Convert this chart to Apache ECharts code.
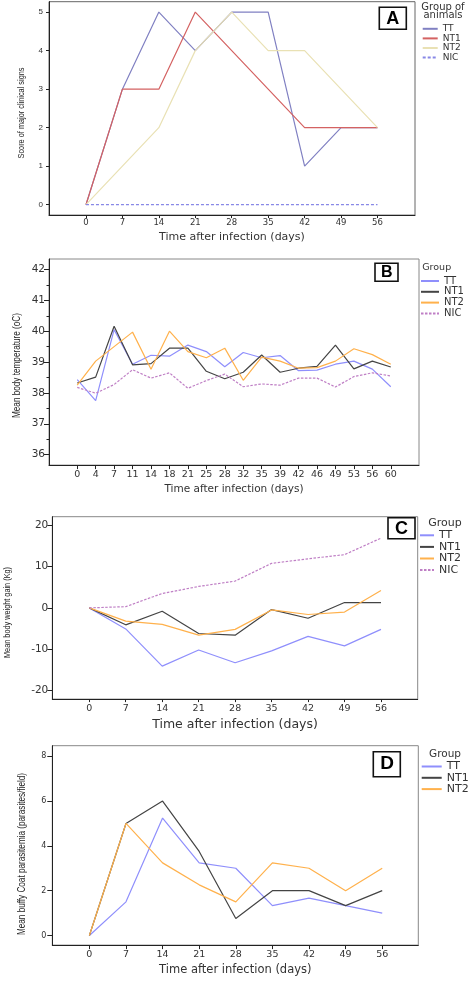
<!DOCTYPE html>
<html><head><meta charset="utf-8">
<script src="https://cdn.jsdelivr.net/npm/echarts@6/dist/echarts.min.js"></script>
<style>html,body{margin:0;padding:0;background:#fff;width:472px;height:981px;overflow:hidden;position:relative}
.p{position:absolute;left:0;width:472px}</style></head>
<body>
<div id="a" class="p" style="top:0;height:248px"></div>
<div id="b" class="p" style="top:248px;height:252px"></div>
<div id="c" class="p" style="top:500px;height:236px"></div>
<div id="d" class="p" style="top:736px;height:245px"></div>
<script>
// ---------- data ----------
const weekDays = [0, 7, 14, 21, 28, 35, 42, 49, 56];
const tempDays = ['0','4','7','11','14','18','21','25','28','32','35','39','42','46','49','53','56','60'];
const groups = ['TT', 'NT1', 'NT2', 'NIC'];

const scoreTT  = [0, 3, 5, 4, 5, 5, 1, 2, 2];
const scoreNT1 = [0, 3, 3, 5, 4, 3, 2, 2, 2];
const scoreNT2 = [0, 1, 2, 4, 5, 4, 4, 3, 2];
const scoreNIC = [0, 0, 0, 0, 0, 0, 0, 0, 0];

const tempTT  = [38.43, 37.75, 40.05, 38.93, 39.22, 39.19, 39.55, 39.34, 38.85, 39.31, 39.14, 39.21, 38.72, 38.74, 38.93, 39.03, 38.77, 38.20];
const tempNT1 = [38.32, 38.51, 40.16, 38.91, 38.95, 39.45, 39.45, 38.70, 38.46, 38.67, 39.23, 38.67, 38.80, 38.86, 39.55, 38.78, 39.03, 38.84];
const tempNT2 = [38.25, 39.03, 39.50, 39.97, 38.77, 40.00, 39.34, 39.14, 39.45, 38.41, 39.16, 39.03, 38.80, 38.82, 39.03, 39.43, 39.24, 38.93];
const tempNIC = [38.18, 37.99, 38.27, 38.75, 38.48, 38.65, 38.15, 38.40, 38.61, 38.20, 38.29, 38.25, 38.48, 38.48, 38.19, 38.53, 38.65, 38.55];

const weightTT  = [0, -5.1, -14.1, -10.2, -13.3, -10.4, -6.9, -9.2, -5.2];
const weightNT1 = [0, -4.1, -0.8, -6.2, -6.6, -0.4, -2.5, 1.3, 1.3];
const weightNT2 = [0, -3.2, -4.0, -6.6, -5.2, -0.5, -1.6, -1.0, 4.2];
const weightNIC = [0, 0.3, 3.5, 5.2, 6.5, 10.8, 11.9, 12.9, 16.9];

const buffyTT  = [0, 1.5, 5.24, 3.24, 3.0, 1.33, 1.67, 1.33, 1.0];
const buffyNT1 = [0, 5.0, 6.0, 3.75, 0.76, 2.0, 2.0, 1.33, 2.0];
const buffyNT2 = [0, 5.0, 3.24, 2.26, 1.5, 3.24, 3.0, 2.0, 3.0];

const scoreTicks = [0, 1, 2, 3, 4, 5];
const tempTicks = [36, 37, 38, 39, 40, 41, 42];
const tempMinorTicks = [36.5, 37.5, 38.5, 39.5, 40.5, 41.5];
const weightTicks = [-20, -10, 0, 10, 20];
const buffyTicks = [0, 2, 4, 6, 8];

// ---------- helpers ----------
const XTITLE = 'Time after infection (days)';
const colA = {TT: '#8080c2', NT1: '#d46262', NT2: '#e9e1b4', NIC: '#8888e6'};
const colB = {TT: '#8f8ffc', NT1: '#444444', NT2: '#ffb14c', NIC: '#bf7fc5'};

function mkSeries(name, xs, ys, color, dash) {
  return {
    type: 'line', name: name, symbol: 'none', silent: true,
    data: xs.map((x, i) => [x, ys[i]]),
    lineStyle: {color: color, width: 1.2, type: dash || 'solid'},
    itemStyle: {color: color}
  };
}
function xAxisCfg(min, max, ticks, o) {
  return {
    type: 'value', min: min, max: max,
    axisLine: {onZero: false, lineStyle: {color: '#222', width: 1}},
    axisTick: {customValues: ticks, length: o.tickLen, lineStyle: {color: '#222'}},
    axisLabel: {customValues: ticks, margin: o.labelMargin, fontSize: o.labelSize, color: '#333',
      fontFamily: 'DejaVu Sans', formatter: o.formatter},
    splitLine: {show: false},
    name: XTITLE, nameLocation: 'middle', nameGap: o.nameGap,
    nameTextStyle: {fontSize: o.nameSize, color: '#333', fontFamily: 'DejaVu Sans'}
  };
}
function yAxisCfg(min, max, ticks, o) {
  return {
    type: 'value', min: min, max: max,
    axisLine: {show: true, onZero: false, lineStyle: {color: '#222', width: 1}},
    axisTick: {show: true, customValues: ticks, length: o.tickLen, lineStyle: {color: '#222'}},
    axisLabel: {customValues: ticks, margin: o.labelMargin, fontSize: o.labelSize, color: '#333',
      fontFamily: o.labelFont || 'DejaVu Sans'},
    splitLine: {show: false}
  };
}
function letterBox(txt, left, top, size, pad, lh) {
  return {text: txt, left: left, top: top, padding: pad, borderWidth: 1.6, borderColor: '#111',
    backgroundColor: '#fff',
    textStyle: {fontSize: size, fontWeight: 'bold', color: '#000', fontFamily: 'Liberation Sans', lineHeight: lh}};
}
function legendCfg(names, left, top, iw, ih, gap, fs) {
  return {orient: 'vertical', left: left, top: top, padding: 0, itemWidth: iw, itemHeight: ih, itemGap: gap,
    selectedMode: false, itemStyle: {opacity: 0}, data: names,
    textStyle: {fontSize: fs, lineHeight: ih, color: '#333', fontFamily: 'DejaVu Sans'}};
}
function header(text, x, y, fs, lh) {
  return {type: 'text', x: x, y: y, silent: true,
    style: {text: text, font: fs + 'px "DejaVu Sans"', fill: '#333', align: 'center', textAlign: 'center',
      verticalAlign: 'middle', textVerticalAlign: 'middle', lineHeight: lh}};
}
const measureCtx = document.createElement('canvas').getContext('2d');
// vertical (condensed) axis title
function vTitle(text, cx, cy, fs, len) {
  const font = fs + 'px "Liberation Sans"';
  measureCtx.font = font;
  const w = measureCtx.measureText(text).width;
  return {type: 'text', x: cx, y: cy, rotation: Math.PI / 2, scaleX: len / w, scaleY: 1, silent: true,
    style: {text: text, font: font, fill: '#222', align: 'center', textAlign: 'center',
      verticalAlign: 'middle', textVerticalAlign: 'middle'}};
}

// ---------- Panel A ----------
const chA = echarts.init(document.getElementById('a'), null, {renderer: 'canvas'});
chA.setOption({
  animation: false,
  grid: {left: 49, top: 1.7, width: 366, height: 219.6, show: true, borderColor: '#666', borderWidth: 1},
  xAxis: xAxisCfg(-7.1, 63.2, weekDays, {tickLen: 3, labelMargin: 3, labelSize: 8.5, nameGap: 13.5, nameSize: 11}),
  yAxis: yAxisCfg(-0.27, 5.27, scoreTicks, {tickLen: 3, labelMargin: 6, labelSize: 8, labelFont: 'Liberation Sans'}),
  title: [letterBox('A', 379.3, 7.3, 18, [2, 7, 1, 7], 19)],
  legend: legendCfg(groups, 421.7, 24.3, 15, 8, 0.6, 9),
  graphic: [header('Group of\nanimals', 443, 11.5, 10, 8.4),
            vTitle('Score of major clinical signs', 21.7, 113, 9.5, 91)],
  series: [
    mkSeries('TT', weekDays, scoreTT, colA.TT),
    mkSeries('NT1', weekDays, scoreNT1, colA.NT1),
    mkSeries('NT2', weekDays, scoreNT2, colA.NT2),
    mkSeries('NIC', weekDays, scoreNIC, colA.NIC, [3, 2])
  ]
});

// ---------- Panel B ----------
const tempIdx = tempDays.map((d, i) => i);
const chB = echarts.init(document.getElementById('b'), null, {renderer: 'canvas'});
const yB = yAxisCfg(35.66, 42.34, tempTicks, {tickLen: 5, labelMargin: 4, labelSize: 10.5});
const yBminor = {type: 'value', min: 35.66, max: 42.34, position: 'left',
  axisLine: {show: false, onZero: false}, axisTick: {show: true, customValues: tempMinorTicks, length: 2.5, lineStyle: {color: '#222'}},
  axisLabel: {show: false}, splitLine: {show: false}};
chB.setOption({
  animation: false,
  grid: {left: 49, top: 11, width: 370, height: 214.3, show: true, borderColor: '#888', borderWidth: 1},
  xAxis: xAxisCfg(-1.53, 18.53, tempIdx, {tickLen: 4, labelMargin: 4, labelSize: 9.5, nameGap: 17, nameSize: 10.5,
    formatter: v => tempDays[Math.round(v)]}),
  yAxis: [yB, yBminor],
  title: [letterBox('B', 375, 15.3, 16, [1, 6, 0, 6], 17)],
  legend: legendCfg(groups, 420, 28, 18, 10, 0.8, 10),
  graphic: [header('Group', 436.7, 19.3, 9.5, 10),
            vTitle('Mean body temperature (oC)', 17.5, 117.5, 10, 105)],
  series: [
    mkSeries('TT', tempIdx, tempTT, colB.TT),
    mkSeries('NT1', tempIdx, tempNT1, colB.NT1),
    mkSeries('NT2', tempIdx, tempNT2, colB.NT2),
    mkSeries('NIC', tempIdx, tempNIC, colB.NIC, [2.5, 1.5])
  ]
});

// ---------- Panel C ----------
const chC = echarts.init(document.getElementById('c'), null, {renderer: 'canvas'});
chC.setOption({
  animation: false,
  grid: {left: 52.3, top: 16.7, width: 365.4, height: 190, show: true, borderColor: '#888', borderWidth: 1},
  xAxis: xAxisCfg(-7.1, 63.05, weekDays, {tickLen: 3, labelMargin: 4, labelSize: 9.5, nameGap: 16, nameSize: 12.5}),
  yAxis: yAxisCfg(-22.1, 22.1, weightTicks, {tickLen: 5, labelMargin: 4, labelSize: 10.5}),
  title: [letterBox('C', 388, 17.7, 18, [1, 7, 0, 7], 20)],
  legend: legendCfg(groups, 419, 29.8, 14, 9, 0.6, 11),
  graphic: [header('Group', 445, 23.3, 11, 10),
            vTitle('Mean body weight gain (Kg)', 7, 112.5, 9.5, 91)],
  series: [
    mkSeries('TT', weekDays, weightTT, colB.TT),
    mkSeries('NT1', weekDays, weightNT1, colB.NT1),
    mkSeries('NT2', weekDays, weightNT2, colB.NT2),
    mkSeries('NIC', weekDays, weightNIC, colB.NIC, [2.5, 1.5])
  ]
});

// ---------- Panel D ----------
const chD = echarts.init(document.getElementById('d'), null, {renderer: 'canvas'});
chD.setOption({
  animation: false,
  grid: {left: 52.3, top: 9.7, width: 366, height: 207.6, show: true, borderColor: '#888', borderWidth: 1},
  xAxis: xAxisCfg(-7.09, 62.9, weekDays, {tickLen: 4, labelMargin: 4, labelSize: 9.5, nameGap: 16, nameSize: 11.5}),
  yAxis: yAxisCfg(-0.43, 8.47, buffyTicks, {tickLen: 5, labelMargin: 6, labelSize: 8}),
  title: [letterBox('D', 373.3, 15.7, 19, [2, 7, 2, 7], 21)],
  legend: legendCfg(groups.slice(0, 3), 420.7, 25, 20, 10, 0.3, 11),
  graphic: [header('Group', 445, 18, 10.5, 10),
            vTitle('Mean buffy Coat parasitemia (parasites/field)', 22.5, 118, 10, 162)],
  series: [
    mkSeries('TT', weekDays, buffyTT, colB.TT),
    mkSeries('NT1', weekDays, buffyNT1, colB.NT1),
    mkSeries('NT2', weekDays, buffyNT2, colB.NT2)
  ]
});
</script>
</body></html>
